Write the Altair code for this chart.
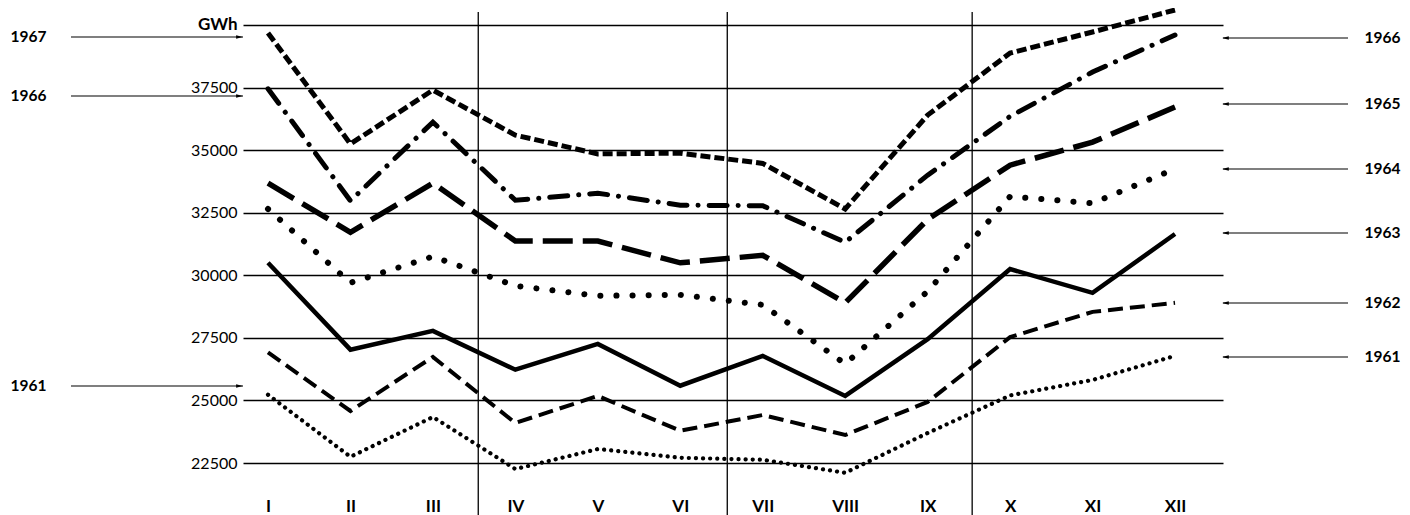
import altair as alt
import pandas as pd

# ---------------- data ----------------
months = list(range(1, 13))
month_labels = ["I", "II", "III", "IV", "V", "VI", "VII", "VIII", "IX", "X", "XI", "XII"]

s1967 = [39680, 35250, 37400, 35600, 34850, 34880, 34470, 32650, 36400, 38880, 39720, 40600]
s1966 = [37450, 32980, 36120, 33000, 33280, 32800, 32780, 31320, 34000, 36350, 38120, 39600]
s1965 = [33680, 31720, 33680, 31370, 31370, 30500, 30800, 28900, 32230, 34400, 35320, 36720]
s1964 = [32650, 29700, 30750, 29580, 29180, 29220, 28820, 26460, 29360, 33150, 32880, 34250]
s1963 = [30500, 27030, 27780, 26230, 27260, 25590, 26780, 25180, 27450, 30250, 29300, 31650]
s1962 = [26920, 24580, 26740, 24100, 25180, 23790, 24420, 23620, 24940, 27530, 28540, 28900]
s1961 = [25230, 22750, 24340, 22260, 23060, 22710, 22630, 22110, 23700, 25200, 25820, 26780]

series_names = ["1967", "1966", "1965", "1964", "1963", "1962", "1961"]
series_values = [s1967, s1966, s1965, s1964, s1963, s1962, s1961]

y_ticks = [22500, 25000, 27500, 30000, 32500, 35000, 37500, 40000]

# annotation labels (years with arrows)
left_labels = ["1967", "1966", "1961"]
left_levels = [39521, 37163, 25578]
right_labels = ["1966", "1965", "1964", "1963", "1962", "1961"]
right_levels = [39481, 36844, 34247, 31690, 28894, 26737]

# quarter separators (between months)
quarter_breaks = [3.55, 6.57, 9.54]

# ---------------- frames ----------------
rows = []
for name, vals in zip(series_names, series_values):
    for m, v in zip(months, vals):
        rows.append({"series": name, "month": m, "value": v})
df = pd.DataFrame(rows)

X_DOMAIN = [0.697, 12.582]
Y_DOMAIN = [21423, 40519]
Y_BOTTOM = 20424

left_text_x, left_arrow_from, left_arrow_to, left_head = -1.905, -1.389, 0.697, 0.654
right_text_x, right_arrow_from, right_arrow_to, right_head = 14.735, 14.098, 12.582, 12.612

df_left = pd.DataFrame({"label": left_labels, "value": left_levels,
                        "tx": left_text_x, "a0": left_arrow_from, "a1": left_arrow_to, "ah": left_head})
df_right = pd.DataFrame({"label": right_labels, "value": right_levels,
                         "tx": right_text_x, "a0": right_arrow_from, "a1": right_arrow_to, "ah": right_head})
df_q = pd.DataFrame({"month": quarter_breaks, "value": Y_DOMAIN[1], "value2": Y_BOTTOM})

FONT = "Lato"
label_expr_x = "[" + ",".join("'%s'" % s for s in month_labels) + "][datum.value - 1]"

x_scale = alt.Scale(domain=X_DOMAIN, nice=False, zero=False)
y_scale = alt.Scale(domain=Y_DOMAIN, nice=False, zero=False)

x_axis = alt.Axis(values=months, labelExpr=label_expr_x, title=None, domain=False, ticks=False,
                  grid=False, labelFont=FONT, labelFontSize=17, labelFontWeight="bold",
                  labelColor="black", labelPadding=8)
y_axis = alt.Axis(values=y_ticks,
                  labelExpr="datum.value == 40000 ? 'GWh' : format(datum.value, 'd')",
                  title=None, domain=False, ticks=False, grid=True, gridColor="black",
                  gridWidth=1.3, gridOpacity=1, labelFont=FONT,
                  labelFontSize={"condition": {"test": "datum.value == 40000", "value": 17}, "value": 16},
                  labelFontWeight={"condition": {"test": "datum.value == 40000", "value": "bold"}, "value": "normal"},
                  labelColor="black", labelPadding=6)

def xq(field="month", axis=True):
    return alt.X(f"{field}:Q", scale=x_scale, axis=x_axis if axis else None)

def yq(field="value", axis=True):
    return alt.Y(f"{field}:Q", scale=y_scale, axis=y_axis if axis else None)

# base layer carrying the axes
quarters = alt.Chart(df_q).mark_rule(color="black", strokeWidth=1.3).encode(
    x=xq(), y=yq(), y2=alt.Y2("value2:Q"))

styles = {
    "1967": dict(strokeWidth=5, strokeDash=[10, 4], strokeCap="butt"),
    "1966": dict(strokeWidth=5, strokeDash=[18, 11, 0.1, 11], strokeCap="round"),
    "1965": dict(strokeWidth=5.5, strokeDash=[30, 10], strokeCap="butt"),
    "1964": dict(strokeWidth=6, strokeDash=[0.1, 16], strokeCap="round"),
    "1963": dict(strokeWidth=4.5, strokeCap="butt"),
    "1962": dict(strokeWidth=4, strokeDash=[15, 7], strokeCap="butt"),
    "1961": dict(strokeWidth=4.2, strokeDash=[0.1, 7], strokeCap="round"),
}

layers = [quarters]
for name in series_names:
    layers.append(
        alt.Chart(df).transform_filter(alt.datum.series == name)
        .mark_line(color="black", strokeJoin="miter", **styles[name])
        .encode(x=xq(), y=yq())
    )

arrow_right_shape = "M-1,-0.55L1,0L-1,0.55Z"
arrow_left_shape = "M1,-0.55L-1,0L1,0.55Z"

for d, shape, align in ((df_left, arrow_right_shape, "center"), (df_right, arrow_left_shape, "right")):
    base = alt.Chart(d)
    layers.append(base.mark_rule(color="black", strokeWidth=1.2).encode(
        x=xq("a0"), x2=alt.X2("a1:Q"), y=yq()))
    layers.append(base.mark_point(shape=shape, filled=True, color="black", size=45, opacity=1).encode(
        x=xq("ah"), y=yq()))
    layers.append(base.mark_text(font=FONT, fontSize=15.5, fontWeight="bold", color="black",
                                 align=align, baseline="middle").encode(
        x=xq("tx"), y=yq(), text="label:N"))

chart = alt.layer(*layers).properties(
    width=980, height=478,
    autosize=alt.AutoSizeParams(type="none"),
    padding={"left": 235, "top": 4, "right": 179, "bottom": 25},
    background="white",
).configure_view(stroke=None)

chart.save("out.html", embed_options={"renderer": "svg", "actions": False})
